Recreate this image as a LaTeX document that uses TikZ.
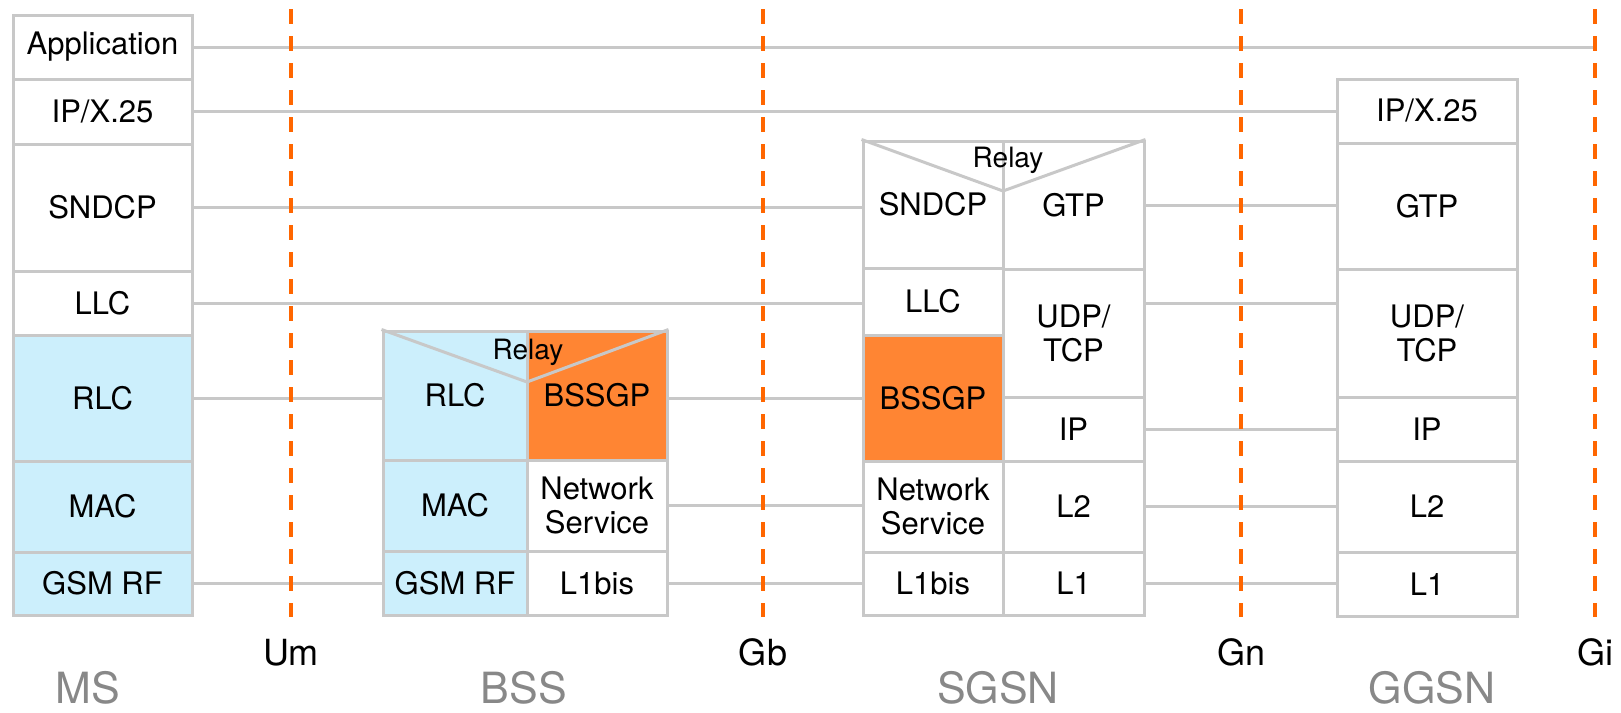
\documentclass[tikz,border=0pt]{standalone}
\usepackage{fontspec}
\setmainfont{TeX Gyre Heros}
\definecolor{cellgray}{RGB}{200,200,200}
\definecolor{rlcblue}{RGB}{204,239,252}
\definecolor{bssgporange}{RGB}{255,133,51}
\definecolor{ifaceorange}{RGB}{255,102,0}
\definecolor{namegray}{RGB}{136,136,136}
\begin{document}
\begin{tikzpicture}[x=0.5pt,y=-0.5pt,
  cell/.style={draw=cellgray,line width=1.5pt,inner sep=0pt,align=center,font=\fontsize{15.5}{17}\selectfont},
  sz/.style 2 args={minimum width=#1*0.5pt,minimum height=#2*0.5pt},
  blue/.style={fill=rlcblue},
  orange/.style={fill=bssgporange},
  link/.style={draw=cellgray,line width=1.5pt},
  relay/.style={inner sep=0pt,font=\fontsize{14}{16}\selectfont},
  iface/.style={draw=ifaceorange,line width=2pt,dash pattern=on 7.5pt off 6pt},
  ifname/.style={anchor=base,inner sep=0pt,font=\fontsize{18}{20}\selectfont},
  sysname/.style={anchor=base,inner sep=0pt,text=namegray,font=\fontsize{21.5}{24}\selectfont}]
                \useasboundingbox (0,0) rectangle (1621,712);
                % MS
                \node[cell,sz={179}{64}] (msApp) at (102.5,47) {Application};
                \node[cell,sz={179}{65}] (msIP) at (102.5,111.5) {IP/X.25};
                \node[cell,sz={179}{127}] (msSNDCP) at (102.5,207.5) {SNDCP};
                \node[cell,sz={179}{64}] (msLLC) at (102.5,303) {LLC};
                \node[cell,blue,sz={179}{126}] (msRLC) at (102.5,398) {RLC};
                \node[cell,blue,sz={179}{91}] (msMAC) at (102.5,506.5) {MAC};
                \node[cell,blue,sz={179}{63}] (msRF) at (102.5,583.5) {GSM RF};
                % BSS
                \node[cell,blue,sz={144}{129}] (bssRLC) at (455,395.5) {RLC};
                \node[cell,orange,sz={140}{129}] (bssBSSGP) at (597,395.5) {BSSGP};
                \node[cell,blue,sz={144}{91}] (bssMAC) at (455,505.5) {MAC};
                \node[cell,sz={140}{91}] (bssNS) at (597,505.5) {Network\\Service};
                \node[cell,blue,sz={144}{64}] (bssRF) at (455,583) {GSM RF};
                \node[cell,sz={140}{64}] (bssL1) at (597,583) {L1bis};
                \coordinate (bssV) at (527,382);
                \draw[link] (bssRLC.north west) -- (bssV) -- (bssBSSGP.north east);
                \node[relay] (bssRelay) at (528,352) {Relay};
                % SGSN
                \node[cell,sz={140}{127}] (sgSNDCP) at (933,204.5) {SNDCP};
                \node[cell,sz={140}{67}] (sgLLC) at (933,301.5) {LLC};
                \node[cell,orange,sz={140}{126}] (sgBSSGP) at (933,398) {BSSGP};
                \node[cell,sz={140}{91}] (sgNS) at (933,506.5) {Network\\Service};
                \node[cell,sz={140}{63}] (sgL1bis) at (933,583.5) {L1bis};
                \node[cell,sz={141}{128}] (sgGTP) at (1073.5,205) {GTP};
                \node[cell,sz={141}{128}] (sgUDP) at (1073.5,333) {UDP/\\TCP};
                \node[cell,sz={141}{64}] (sgIP) at (1073.5,429) {IP};
                \node[cell,sz={141}{91}] (sgL2) at (1073.5,506.5) {L2};
                \node[cell,sz={141}{63}] (sgL1) at (1073.5,583.5) {L1};
                \coordinate (sgV) at (1003,191);
                \draw[link] (sgSNDCP.north west) -- (sgV) -- (sgGTP.north east);
                \node[relay] (sgRelay) at (1008,160) {Relay};
                % GGSN
                \node[cell,sz={180}{64}] (ggIP) at (1427,111) {IP/X.25};
                \node[cell,sz={180}{126}] (ggGTP) at (1427,206) {GTP};
                \node[cell,sz={180}{128}] (ggUDP) at (1427,333) {UDP/\\TCP};
                \node[cell,sz={180}{64}] (ggIPL) at (1427,429) {IP};
                \node[cell,sz={180}{91}] (ggL2) at (1427,506.5) {L2};
                \node[cell,sz={180}{64}] (ggL1) at (1427,584) {L1};
                % interfaces
                \coordinate (um) at (291,9);
                \coordinate (gb) at (763,9);
                \coordinate (gn) at (1241,9);
                \coordinate (gi) at (1595,9);
                % peer links
                \draw[link] (msApp.east) -- (msApp.east -| gi);
                \draw[link] (msIP.east) -- (msIP.east -| ggIP.west);
                \draw[link] (msSNDCP.east) -- (msSNDCP.east -| sgSNDCP.west);
                \draw[link] (sgGTP.east) -- (sgGTP.east -| ggGTP.west);
                \draw[link] (msLLC.east) -- (msLLC.east -| sgLLC.west);
                \draw[link] (sgUDP.east |- msLLC.east) -- (ggUDP.west |- msLLC.east);
                \draw[link] (msRLC.east) -- (msRLC.east -| bssRLC.west);
                \draw[link] (bssBSSGP.east |- msRLC.east) -- (sgBSSGP.west);
                \draw[link] (sgIP.east) -- (sgIP.east -| ggIPL.west);
                \draw[link] (bssNS.east) -- (bssNS.east -| sgNS.west);
                \draw[link] (sgL2.east) -- (sgL2.east -| ggL2.west);
                \draw[link] (msRF.east) -- (msRF.east -| bssRF.west);
                \draw[link] (bssL1.east) -- (bssL1.east -| sgL1bis.west);
                \draw[link] (sgL1.east) -- (sgL1.east -| ggL1.west);
                \draw[iface] (um) -- ++(0,608);
                \draw[iface] (gb) -- ++(0,608);
                \draw[iface] (gn) -- ++(0,608);
                \draw[iface] (gi) -- ++(0,608);
                \node[ifname] (umName) at (291,665) {Um};
                \node[ifname] (gbName) at (763,665) {Gb};
                \node[ifname] (gnName) at (1241,665) {Gn};
                \node[ifname] (giName) at (1595,665) {Gi};
                \node[sysname] (msName) at (88,703) {MS};
                \node[sysname] (bssName) at (524,703) {BSS};
                \node[sysname] (sgName) at (998,703) {SGSN};
                \node[sysname] (ggName) at (1432,703) {GGSN};
\end{tikzpicture}
\end{document}
